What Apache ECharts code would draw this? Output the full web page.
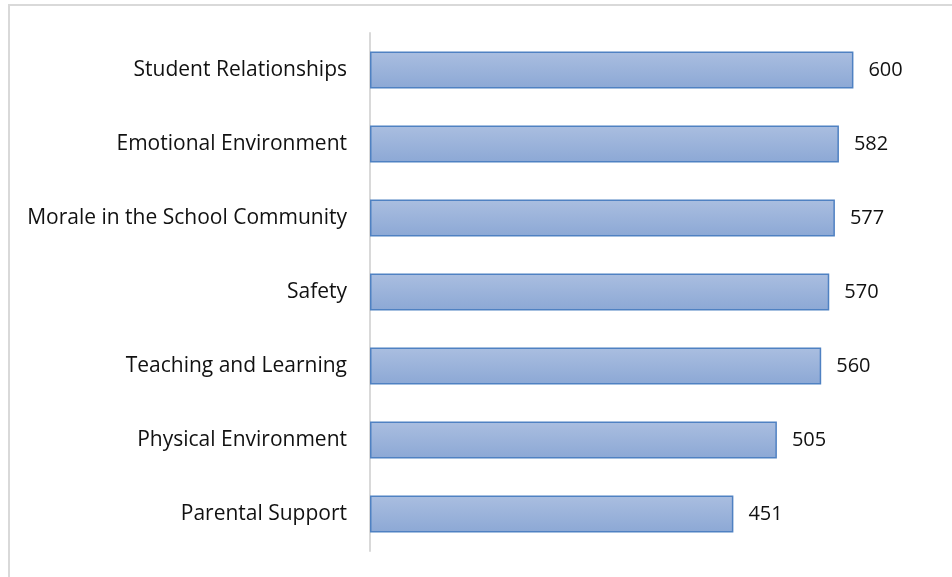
<!DOCTYPE html>
<html>
<head>
<meta charset="utf-8">
<script src="https://cdn.jsdelivr.net/npm/echarts@6/dist/echarts.min.js"></script>
<style>
  html, body { margin: 0; padding: 0; background: #fff; }
  #chart { width: 952px; height: 577px; }
</style>
</head>
<body>
<div id="chart"></div>
<script>
// Categories listed bottom to top (category axis on y grows upward)
const categories = [
  'Parental Support',
  'Physical Environment',
  'Teaching and Learning',
  'Safety',
  'Morale in the School Community',
  'Emotional Environment',
  'Student Relationships'
];
const scores = [451, 505, 560, 570, 577, 582, 600];

const chart = echarts.init(document.getElementById('chart'), null, { renderer: 'canvas' });

const FONT = 'Open Sans';

chart.setOption({
  animation: false,
  backgroundColor: '#ffffff',
  graphic: [{
    type: 'rect',
    shape: { x: 9, y: 5, width: 1200, height: 1200 },
    style: { fill: 'none', stroke: '#d9d9d9', lineWidth: 2 },
    silent: true,
    z: -1
  }],
  grid: { left: 370, top: 33, width: 564, height: 518, containLabel: false },
  xAxis: {
    type: 'value',
    min: 0,
    max: 700,
    show: false
  },
  yAxis: {
    type: 'category',
    data: categories,
    axisLine: { show: true, lineStyle: { color: '#d9d9d9', width: 2 } },
    axisTick: { show: false },
    axisLabel: {
      margin: 23,
      color: '#111111',
      fontFamily: FONT,
      fontSize: 21
    },
    splitLine: { show: false }
  },
  series: [{
    type: 'bar',
    data: scores,
    barCategoryGap: '50%',
    itemStyle: {
      color: new echarts.graphic.LinearGradient(0, 0, 0, 1, [
        { offset: 0, color: '#aabee0' },
        { offset: 1, color: '#8ca8d5' }
      ]),
      borderColor: '#4f81c2',
      borderWidth: 1.5
    },
    label: {
      show: true,
      position: 'right',
      distance: 15,
      color: '#111111',
      fontFamily: FONT,
      fontSize: 20
    }
  }]
});
</script>
</body>
</html>
